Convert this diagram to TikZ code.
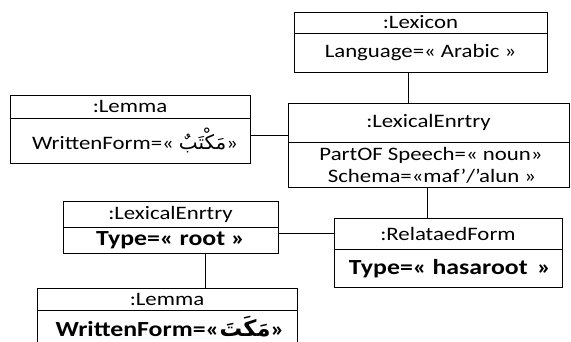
\documentclass[tikz,border=0pt]{standalone}
\usepackage{fontspec}
\setmainfont{Carlito}[FakeStretch=1.2]
\newfontfamily\arabicfont[Script=Arabic,Scale=1.05]{DejaVu Sans}
\TeXXeTstate=1
\begin{document}
\begin{tikzpicture}[x=1pt,y=-1pt,
  objbox/.style={draw,line width=0.8pt,rectangle,inner sep=0pt,anchor=north west},
  txt/.style={inner sep=0pt,font=\fontsize{19}{22}\selectfont},
  boldtxt/.style={inner sep=0pt,font=\fontsize{21.5}{24}\selectfont\bfseries},
  link/.style={line width=0.8pt}]
\useasboundingbox (0,0) rectangle (571,341);
\clip (0,0) rectangle (571,341);

% :Lexicon
\node[objbox,minimum width=253,minimum height=60] (lex) at (294,12) {};
\draw[link] (294,33) -- (547,33);
\node[txt] (lext) at (420.5,22.5) {:Lexicon};
\node[txt] (lexa) at (420.5,52.5) {Language=« Arabic »};

% main :LexicalEnrtry
\node[objbox,minimum width=281,minimum height=84] (le) at (288,103) {};
\draw[link] (288,142) -- (569,142);
\node[txt] (let) at (428.5,122.5) {:LexicalEnrtry};
\node[txt] (lea) at (431,155) {PartOF Speech=« noun»};
\node[txt] (leb) at (432,176) {Schema=«maf’/’alun »};

% upper :Lemma
\node[objbox,minimum width=240,minimum height=68] (lem) at (10,95) {};
\draw[link] (10,118) -- (250,118);
\node[txt] (lemt) at (130,106.5) {:Lemma};
\node[txt] (lema) at (135,140.5) {WrittenForm=« {\arabicfont\beginR مَكْتَبٌ\endR}»};

% :RelataedForm
\node[objbox,minimum width=228,minimum height=69] (rf) at (334,218) {};
\draw[link] (334,249) -- (562,249);
\node[txt] (rft) at (448,233.5) {:RelataedForm};
\node[boldtxt] (rfa) at (450,268.5) {Type=« hasaroot \,»};

% lower :LexicalEnrtry
\node[objbox,minimum width=215,minimum height=52] (le2) at (63,201) {};
\draw[link] (63,227) -- (278,227);
\node[txt] (le2t) at (170.5,214) {:LexicalEnrtry};
\node[boldtxt] (le2a) at (170.5,240.5) {Type=« root »};

% lower :Lemma (runs past the bottom edge)
\node[objbox,minimum width=260,minimum height=70] (lem2) at (37,288) {};
\draw[link] (37,310) -- (297,310);
\node[txt] (lem2t) at (167,299) {:Lemma};
\node[boldtxt] (lem2a) at (170,327) {WrittenForm=«{\arabicfont\bfseries\beginR مَكَتَ\endR}»};

% links
\coordinate (c1) at ([xshift=-12.5]lex.south);
\draw[link] (c1) -- (c1 |- le.north);
\draw[link] (lem.east |- 0,135) -- (le.west |- 0,135);
\coordinate (c2) at ([xshift=-1.5]le.south);
\draw[link] (c2) -- (c2 |- rf.north);
\draw[link] (le2.east |- 0,233) -- (rf.west |- 0,233);
\coordinate (c3) at ([xshift=34.5]le2.south);
\draw[link] (c3) -- (c3 |- lem2.north);
\end{tikzpicture}
\end{document}
